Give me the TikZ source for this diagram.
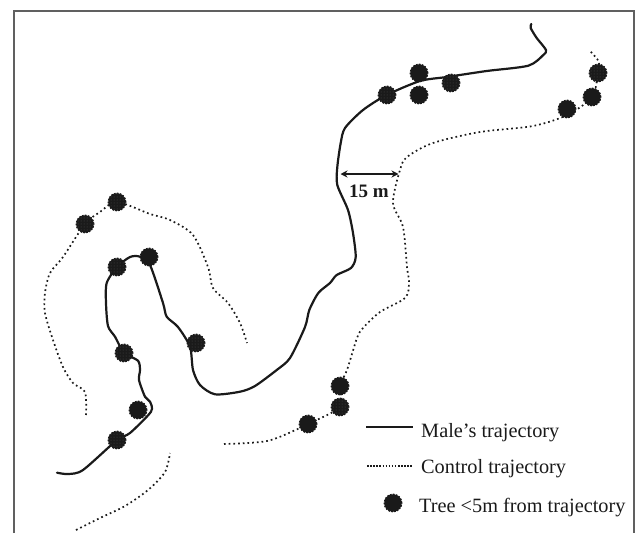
\documentclass[tikz,border=0pt]{standalone}
\usepackage{fontspec}
\setmainfont{Liberation Serif}
\usetikzlibrary{arrows.meta,patterns}
\definecolor{ink}{HTML}{1A1A1A}
\definecolor{stip}{HTML}{4A4A4A}
\tikzset{
  treemark/.style={circle,inner sep=0pt,minimum size=17.5pt,fill=ink,draw=ink,line width=1.3pt,dash pattern=on 1.8pt off 1.2pt},
  stipple/.style={treemark,postaction={pattern=dots,pattern color=stip}},
  male/.style={draw=ink,line width=2.2pt,line cap=round,line join=round},
  control/.style={draw=ink,line width=1.7pt,dash pattern=on 1.7pt off 3pt},
  legendtext/.style={anchor=base west,inner sep=0pt,font=\fontsize{20.3}{24}\selectfont,text=ink}
}
\begin{document}
\begin{tikzpicture}[x=1pt,y=-1pt]
\useasboundingbox (0,0) rectangle (636,533);
\fill[white] (0,0) rectangle (636,533);
\draw[gray!75!black,line width=1.5pt] (14,533) -- (14,11) -- (634,11) -- (634,533);
% male trajectory
\draw[male] plot[smooth,tension=0.45] coordinates {
(531.3,24)(530.7,28)(536.7,38)(546,50)(543.3,55)(528.3,65.7)(486.7,71)(446.7,77)(420,81)(386.7,95)(363,110)(345,128)(340.7,143)(337.3,167)(337.3,185)(348,210)(353,233)(355.7,257)(351,268)(336.7,275)(330,283)(318.3,293)(309.3,310)(305,327)(290,358)(276.7,370)(255,386)(240,391.7)(215,394.3)(200,385)(193,370)(190,346.7)(178,327)(166.7,316.7)(163,303)(150,265)(140,256.7)(130,257)(117,267)(106.7,283)(106,303)(108,326)(115,336.7)(124,352.7)(138,360.7)(140,370)(139,380)(145,396.7)(150,401.7)(151,411.7)(130,433)(117,440)(83,470)(68,474)(57,472.7)};
% control trajectories
\draw[control] plot[smooth,tension=0.5] coordinates {
(86,415)(85,392)(73,383)(63,367)(53,340)(45,313)(45,293)(50,273)(63,257)(85,224)(100,212)(117,202)(150,214)(170,220)(193,235)(208,267)(213,288)(228,303)(240,323)(247,343)};
\draw[control] plot[smooth,tension=0.5] coordinates {
(76,530)(100,518)(125,506)(148,490)(165,472)(170,453)};
\draw[control] plot[smooth,tension=0.5] coordinates {
(224,444)(267,441)(300,428)(308,424)(340,407)(340,386)(347,370)(357,338)(363,328)(380,312)(405,298)(409,283)(407,267)(403,227)(393,203)(400,170)(407,157)(433,143)(480,132)(533,126)(567,115)(592,97)(598,73)(599,62)(590,51)};
% trees
\node[stipple] (t1) at (117,202) {};
\node[stipple] (t2) at (85,224) {};
\node[stipple] (t3) at (117,267) {};
\node[treemark] (t4) at (149,257) {};
\node[stipple] (t5) at (196,343) {};
\node[stipple] (t6) at (124,353) {};
\node[treemark] (t7) at (138,410) {};
\node[stipple] (t8) at (117,440) {};
\node[treemark] (t9) at (308,424) {};
\node[treemark] (t10) at (419,73) {};
\node[treemark] (t11) at (419,95) {};
\node[stipple] (t12) at (451,83) {};
\node[stipple] (t13) at (387,95) {};
\node[stipple] (t14) at (598,73) {};
\node[treemark] (t15) at (592,97) {};
\node[treemark] (t16) at (567,109) {};
\node[treemark] (t17) at (340,386) {};
\node[stipple] (t18) at (340,407) {};
% 15 m
\coordinate (wa) at (340.5,174);
\coordinate (wb) at (398.5,174);
\draw[ink,line width=1.2pt,{Stealth[length=7pt,width=7pt]}-{Stealth[length=7pt,width=7pt]}] (wa) -- (wb);
\node[font=\fontsize{19}{22}\selectfont\bfseries,text=ink,inner sep=0pt,anchor=base] (wl) at (369,197) {15 m};
% legend
\coordinate (m1) at (366,427); \coordinate (m2) at (413,427);
\draw[male,line cap=butt] (m1) -- (m2);
\node[legendtext] (lm) at (421,437) {Male’s trajectory};
\coordinate (c1) at (367,466); \coordinate (c2) at (413,466);
\draw[draw=ink,line width=1.3pt,dash pattern=on 1.5pt off 1.6pt] (c1) -- (c2);
\node[legendtext] (lc) at (421,473) {Control trajectory};
\node[treemark] (lt) at (393,503) {};
\node[legendtext] (ltt) at (419,512) {Tree <5m from trajectory};
\end{tikzpicture}
\end{document}
